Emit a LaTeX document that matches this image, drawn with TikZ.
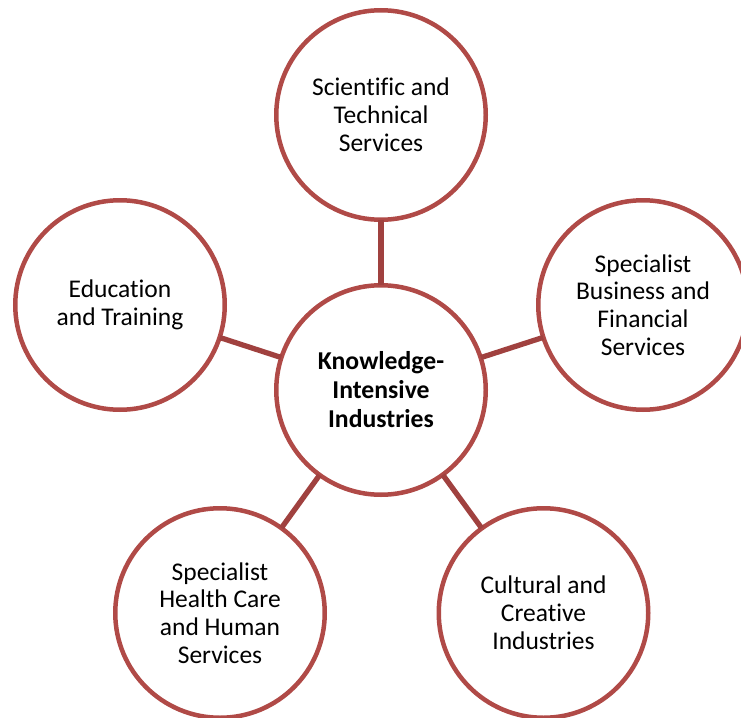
\documentclass[tikz,border=0pt]{standalone}
\usepackage{fontspec}
\setmainfont{Carlito}[Ligatures=NoCommon]
\definecolor{ringc}{RGB}{176,74,71}
\definecolor{linkc}{RGB}{160,65,63}
\begin{document}
\begin{tikzpicture}[x=1pt,y=-1pt,
  ring/.style={circle, draw=ringc, line width=4.5pt, minimum size=209.5pt,
    inner sep=0pt, align=center, fill=white,
    font=\fontsize{25.5}{27.8}\selectfont},
  hub/.style={ring, font=\bfseries\fontsize{25.7}{29}\selectfont},
  link/.style={draw=linkc, line width=5.3pt, shorten <=-2pt, shorten >=-2pt}]
\useasboundingbox (0,0) rectangle (741,717);
\clip (0,0) rectangle (741,717);
\node[hub]  (c)  at (381,390)   {Knowledge-\\Intensive\\Industries};
\node[ring] (t)  at (381,115)   {Scientific and\\Technical\\Services};
\node[ring] (r)  at (643,305)   {Specialist\\Business and\\Financial\\Services};
\node[ring] (l)  at (120,305)   {Education\\and Training};
\node[ring] (bl) at (220,613)   {Specialist\\Health Care\\and Human\\Services};
\node[ring] (br) at (543.5,613) {Cultural and\\Creative\\Industries};
\draw[link] (c) -- (t);
\draw[link] (c) -- (r);
\draw[link] (c) -- (l);
\draw[link] (c) -- (bl);
\draw[link] (c) -- (br);
\end{tikzpicture}
\end{document}
